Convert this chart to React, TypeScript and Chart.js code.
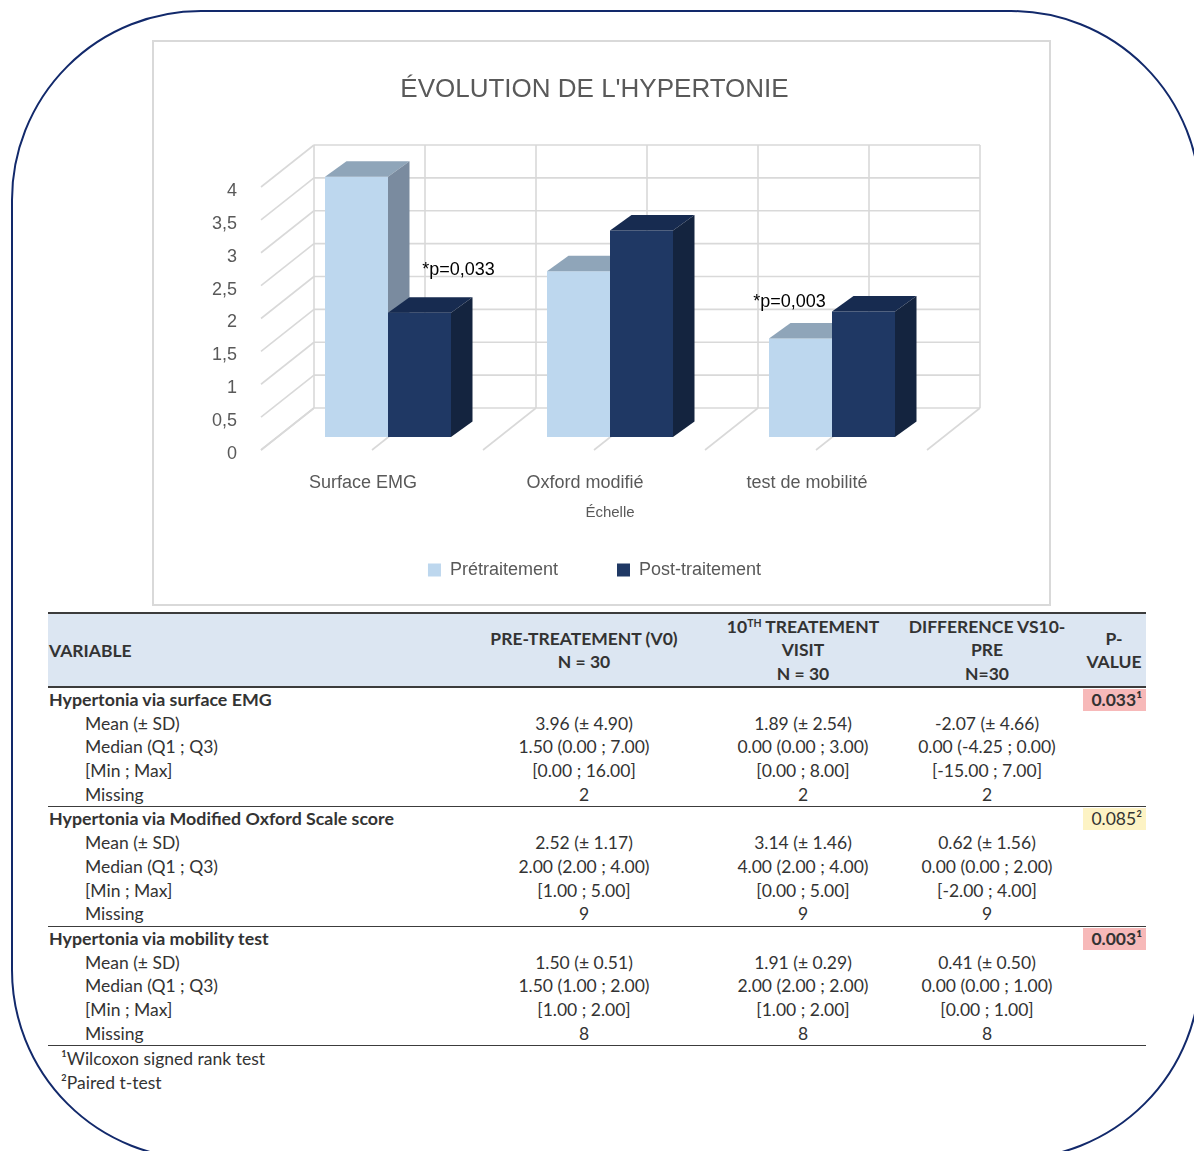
import React, { useEffect, useRef } from 'react';
import { Chart, registerables } from 'chart.js';

Chart.register(...registerables);

// ---- chart data ----
const categories = ['Surface EMG', 'Oxford modifié', 'test de mobilité'];
const seriesNames = ['Prétraitement', 'Post-traitement'];
const preMeans = [3.96, 2.52, 1.5];
const postMeans = [1.89, 3.14, 1.91];
const yMin = 0;
const yMax = 4;
const yStep = 0.5;
const pLabels = ['*p=0,033', '', '*p=0,003'];

// ---- table data ----
const sectionTitles = [
  'Hypertonia via surface EMG',
  'Hypertonia via Modified Oxford Scale score',
  'Hypertonia via mobility test',
];
const statLabels = ['Mean (± SD)', 'Median (Q1 ; Q3)', '[Min ; Max]', 'Missing'];
const preSD = [4.9, 1.17, 0.51];
const preMedians = ['1.50 (0.00 ; 7.00)', '2.00 (2.00 ; 4.00)', '1.50 (1.00 ; 2.00)'];
const preRanges = ['[0.00 ; 16.00]', '[1.00 ; 5.00]', '[1.00 ; 2.00]'];
const preMissing = [2, 9, 8];
const postSD = [2.54, 1.46, 0.29];
const postMedians = ['0.00 (0.00 ; 3.00)', '4.00 (2.00 ; 4.00)', '2.00 (2.00 ; 2.00)'];
const postRanges = ['[0.00 ; 8.00]', '[0.00 ; 5.00]', '[1.00 ; 2.00]'];
const postMissing = [2, 9, 8];
const diffMeans = [-2.07, 0.62, 0.41];
const diffSD = [4.66, 1.56, 0.5];
const diffMedians = ['0.00 (-4.25 ; 0.00)', '0.00 (0.00 ; 2.00)', '0.00 (0.00 ; 1.00)'];
const diffRanges = ['[-15.00 ; 7.00]', '[-2.00 ; 4.00]', '[0.00 ; 1.00]'];
const diffMissing = [2, 9, 8];
const pValues = ['0.033', '0.085', '0.003'];
const pTests = [1, 2, 1];
const footnotes = ['¹Wilcoxon signed rank test', '²Paired t-test'];

// ---- styling ----
const CHART_FONT = "'Liberation Sans', Arial, sans-serif";
const TABLE_FONT = "Lato, 'Open Sans', sans-serif";
const GREY_TEXT = '#595959';
const GRID = '#d9d9d9';
const PRE = { front: '#bdd7ee', top: '#8fa5b9', side: '#7a8b9f' };
const POST = { front: '#1f3864', top: '#172b50', side: '#14243f' };
const BAR_DEPTH = { dx: 21.5, dy: -15.5 };
const WALL_BACK = { dx: 37, dy: -29 };
const WALL_FRONT = { dx: -16, dy: 13 };
// where each significance note sits: pixel shift from the category centre, and a y value
const P_LABEL_ANCHORS = [
  { dx: 70.5, value: 2.54 },
  null,
  { dx: -42.5, value: 2.055 },
];
const SUP = ['', '¹', '²'];

const fmt = (v: number) => v.toFixed(2);

function poly(ctx: CanvasRenderingContext2D, pts: number[][], color: string) {
  ctx.beginPath();
  ctx.moveTo(pts[0][0], pts[0][1]);
  for (let i = 1; i < pts.length; i++) ctx.lineTo(pts[i][0], pts[i][1]);
  ctx.closePath();
  ctx.fillStyle = color;
  ctx.fill();
}

function line(ctx: CanvasRenderingContext2D, x1: number, y1: number, x2: number, y2: number) {
  ctx.beginPath();
  ctx.moveTo(x1, y1);
  ctx.lineTo(x2, y2);
  ctx.stroke();
}

// Draws the 3D walls behind the bars, then the bars as boxes with top and side faces.
const boxBars = {
  id: 'boxBars',
  beforeDatasetsDraw(chart: any) {
    const { ctx, chartArea } = chart;
    const xs = chart.scales.x;
    const ys = chart.scales.y;
    const n = chart.data.labels.length;
    const half = (xs.getPixelForValue(1) - xs.getPixelForValue(0)) / 2;
    const cols: number[] = [];
    for (let i = 0; i < n; i++) {
      const c = xs.getPixelForValue(i);
      cols.push(c - half, c);
    }
    cols.push(xs.getPixelForValue(n - 1) + half);
    const y0 = ys.getPixelForValue(yMin);
    const yTop = ys.getPixelForValue(yMax);
    ctx.save();
    ctx.strokeStyle = GRID;
    ctx.lineWidth = 1.6;
    // back wall and side wall lines at each tick
    for (const t of ys.ticks) {
      const py = ys.getPixelForValue(t.value);
      line(ctx, chartArea.left + WALL_BACK.dx, py + WALL_BACK.dy, chartArea.right + WALL_BACK.dx, py + WALL_BACK.dy);
      line(ctx, chartArea.left + WALL_FRONT.dx, py + WALL_FRONT.dy, chartArea.left + WALL_BACK.dx, py + WALL_BACK.dy);
    }
    // back wall verticals and floor lines
    for (const cx of cols) {
      line(ctx, cx + WALL_BACK.dx, y0 + WALL_BACK.dy, cx + WALL_BACK.dx, yTop + WALL_BACK.dy);
      line(ctx, cx + WALL_FRONT.dx, y0 + WALL_FRONT.dy, cx + WALL_BACK.dx, y0 + WALL_BACK.dy);
    }
    ctx.restore();
  },
  beforeDatasetDraw() {
    return false;
  },
  afterDatasetsDraw(chart: any) {
    const { ctx } = chart;
    const xs = chart.scales.x;
    const ys = chart.scales.y;
    const palettes = [PRE, POST];
    const n = chart.data.labels.length;
    ctx.save();
    for (let i = 0; i < n; i++) {
      chart.data.datasets.forEach((_: any, d: number) => {
        const el = chart.getDatasetMeta(d).data[i];
        const { x, y, base, width } = el.getProps(['x', 'y', 'base', 'width'], true);
        const pal = palettes[d];
        const x1 = x - width / 2;
        const x2 = x + width / 2;
        const { dx, dy } = BAR_DEPTH;
        poly(ctx, [[x1, y], [x2, y], [x2, base], [x1, base]], pal.front);
        poly(ctx, [[x1, y], [x2, y], [x2 + dx, y + dy], [x1 + dx, y + dy]], pal.top);
        poly(ctx, [[x2, y], [x2 + dx, y + dy], [x2 + dx, base + dy], [x2, base]], pal.side);
      });
    }
    ctx.font = `18px ${CHART_FONT}`;
    ctx.fillStyle = '#000000';
    ctx.textAlign = 'center';
    ctx.textBaseline = 'middle';
    pLabels.forEach((txt, i) => {
      const a = P_LABEL_ANCHORS[i];
      if (!txt || !a) return;
      ctx.fillText(txt, xs.getPixelForValue(i) + a.dx, ys.getPixelForValue(a.value));
    });
    ctx.restore();
  },
};

function HypertonieChart() {
  const ref = useRef<HTMLCanvasElement | null>(null);
  useEffect(() => {
    if (!ref.current) return;
    const chart = new Chart(ref.current, {
      type: 'bar',
      data: {
        labels: categories,
        datasets: [
          { label: seriesNames[0], data: preMeans, backgroundColor: PRE.front, borderWidth: 0 },
          { label: seriesNames[1], data: postMeans, backgroundColor: POST.front, borderWidth: 0 },
        ],
      },
      options: {
        responsive: false,
        animation: false,
        events: [],
        layout: { padding: { left: 0, right: 14, top: 0, bottom: 15 } },
        datasets: { bar: { categoryPercentage: 0.5676, barPercentage: 1 } },
        scales: {
          x: {
            grid: { display: false, drawTicks: false },
            border: { display: false },
            ticks: {
              color: GREY_TEXT,
              font: { family: CHART_FONT, size: 18 },
              padding: 35,
              labelOffset: -25,
              maxRotation: 0,
            },
            title: {
              display: true,
              text: 'Échelle',
              color: GREY_TEXT,
              font: { family: CHART_FONT, size: 15 },
              padding: { top: 0, bottom: -20 },
            },
            afterFit: (s: any) => {
              s.height = 65;
            },
          },
          y: {
            min: yMin,
            max: yMax,
            grid: { display: false, drawTicks: false },
            border: { display: false },
            ticks: {
              stepSize: yStep,
              color: GREY_TEXT,
              font: { family: CHART_FONT, size: 18 },
              padding: 40,
              labelOffset: 17,
              callback: (v: any) => String(v).replace('.', ','),
            },
            afterFit: (s: any) => {
              s.width = 123;
            },
          },
          depth: {
            type: 'linear',
            position: 'right',
            grid: { display: false, drawTicks: false },
            border: { display: false },
            ticks: { display: false },
            afterFit: (s: any) => {
              s.width = 92;
            },
          },
        },
        plugins: {
          title: {
            display: true,
            text: "ÉVOLUTION DE L'HYPERTONIE",
            color: GREY_TEXT,
            font: { family: CHART_FONT, size: 26, weight: 'normal' },
            padding: { top: 32.4, bottom: 68.4 },
          },
          legend: {
            position: 'bottom',
            labels: {
              boxWidth: 13,
              boxHeight: 13,
              padding: 59,
              color: GREY_TEXT,
              font: { family: CHART_FONT, size: 18 },
            },
          },
          tooltip: { enabled: false },
        },
      } as any,
      plugins: [boxBars],
    });
    return () => chart.destroy();
  }, []);
  return <canvas ref={ref} width={895} height={562} style={{ display: 'block' }} />;
}

// ---- table ----
const TEXT = '#333333';
const RULE = '#3c3c3c';
const ROW_H = 23.7;
const COL_CENTERS = [536, 755, 939]; // relative to table left
const headerCols = [
  { center: 536, lines: [<>PRE-TREATEMENT (V0)</>, <>N = 30</>] },
  { center: 755, lines: [<>10<sup style={{ fontSize: '0.6em', verticalAlign: '0.55em', lineHeight: 0 }}>TH</sup> TREATEMENT</>, <>VISIT</>, <>N = 30</>] },
  { center: 939, lines: [<>DIFFERENCE VS10-</>, <>PRE</>, <>N=30</>] },
  { center: 1066, lines: [<>P-</>, <>VALUE</>] },
];

function Row({ children }: { children: React.ReactNode }) {
  return <div style={{ position: 'relative', height: ROW_H, lineHeight: `${ROW_H}px` }}>{children}</div>;
}

function Cell({ center, children }: { center: number; children: React.ReactNode }) {
  return (
    <div style={{ position: 'absolute', left: center - 110, width: 220, top: 0, textAlign: 'center', whiteSpace: 'nowrap' }}>
      {children}
    </div>
  );
}

function ResultsTable() {
  return (
    <div
      style={{
        position: 'absolute',
        left: 48,
        top: 612,
        width: 1098,
        fontFamily: TABLE_FONT,
        fontSize: 17.5,
        color: TEXT,
      }}
    >
      <div
        style={{
          position: 'relative',
          height: 72,
          borderTop: `2px solid ${RULE}`,
          borderBottom: `2px solid ${RULE}`,
          background: '#dce6f2',
          fontWeight: 700,
        }}
      >
        <div style={{ position: 'absolute', left: 1, top: 0, bottom: 0, display: 'flex', alignItems: 'center' }}>VARIABLE</div>
        {headerCols.map((h, i) => (
          <div
            key={i}
            style={{
              position: 'absolute',
              left: h.center - 110,
              width: 220,
              top: 0,
              bottom: 0,
              display: 'flex',
              flexDirection: 'column',
              justifyContent: 'center',
              alignItems: 'center',
              lineHeight: '23.5px',
              whiteSpace: 'nowrap',
            }}
          >
            {h.lines.map((l, j) => (
              <div key={j}>{l}</div>
            ))}
          </div>
        ))}
      </div>
      {sectionTitles.map((title, s) => {
        const significant = parseFloat(pValues[s]) < 0.05;
        const cols = [
          [`${fmt(preMeans[s])} (± ${fmt(preSD[s])})`, preMedians[s], preRanges[s], String(preMissing[s])],
          [`${fmt(postMeans[s])} (± ${fmt(postSD[s])})`, postMedians[s], postRanges[s], String(postMissing[s])],
          [`${fmt(diffMeans[s])} (± ${fmt(diffSD[s])})`, diffMedians[s], diffRanges[s], String(diffMissing[s])],
        ];
        return (
          <div key={s} style={{ borderBottom: `1.6px solid ${RULE}` }}>
            <Row>
              <div style={{ position: 'absolute', left: 1, fontWeight: 700, fontSize: 17.8, whiteSpace: 'nowrap' }}>{title}</div>
              <div
                style={{
                  position: 'absolute',
                  left: 1035,
                  width: 63,
                  top: 1,
                  height: ROW_H - 2,
                  lineHeight: `${ROW_H - 2}px`,
                  background: significant ? '#f7b9b9' : '#fdf3c4',
                  fontWeight: significant ? 700 : 400,
                  textAlign: 'right',
                  paddingRight: 4,
                  boxSizing: 'border-box',
                }}
              >
                {pValues[s]}
                {SUP[pTests[s]]}
              </div>
            </Row>
            {statLabels.map((lab, r) => (
              <Row key={r}>
                <div style={{ position: 'absolute', left: 37, whiteSpace: 'nowrap' }}>{lab}</div>
                {cols.map((c, k) => (
                  <Cell key={k} center={COL_CENTERS[k]}>
                    {c[r]}
                  </Cell>
                ))}
              </Row>
            ))}
          </div>
        );
      })}
      <div style={{ paddingTop: 1 }}>
        {footnotes.map((f, i) => (
          <div key={i} style={{ height: 23.5, lineHeight: '23.5px', paddingLeft: 13 }}>
            {f}
          </div>
        ))}
      </div>
    </div>
  );
}

export default function App() {
  return (
    <div
      style={{
        position: 'absolute',
        left: 0,
        top: 0,
        width: 1194,
        height: 1151,
        overflow: 'hidden',
        background: '#ffffff',
      }}
    >
      <div
        style={{
          position: 'absolute',
          left: 11,
          top: 10,
          width: 1190,
          height: 1150,
          border: '2.5px solid #12296b',
          borderRadius: 190,
          boxSizing: 'border-box',
        }}
      />
      <div
        style={{
          position: 'absolute',
          left: 152,
          top: 40,
          width: 899,
          height: 566,
          border: '2px solid #d9d9d9',
          boxSizing: 'border-box',
          background: '#ffffff',
        }}
      >
        <HypertonieChart />
      </div>
      <ResultsTable />
    </div>
  );
}
